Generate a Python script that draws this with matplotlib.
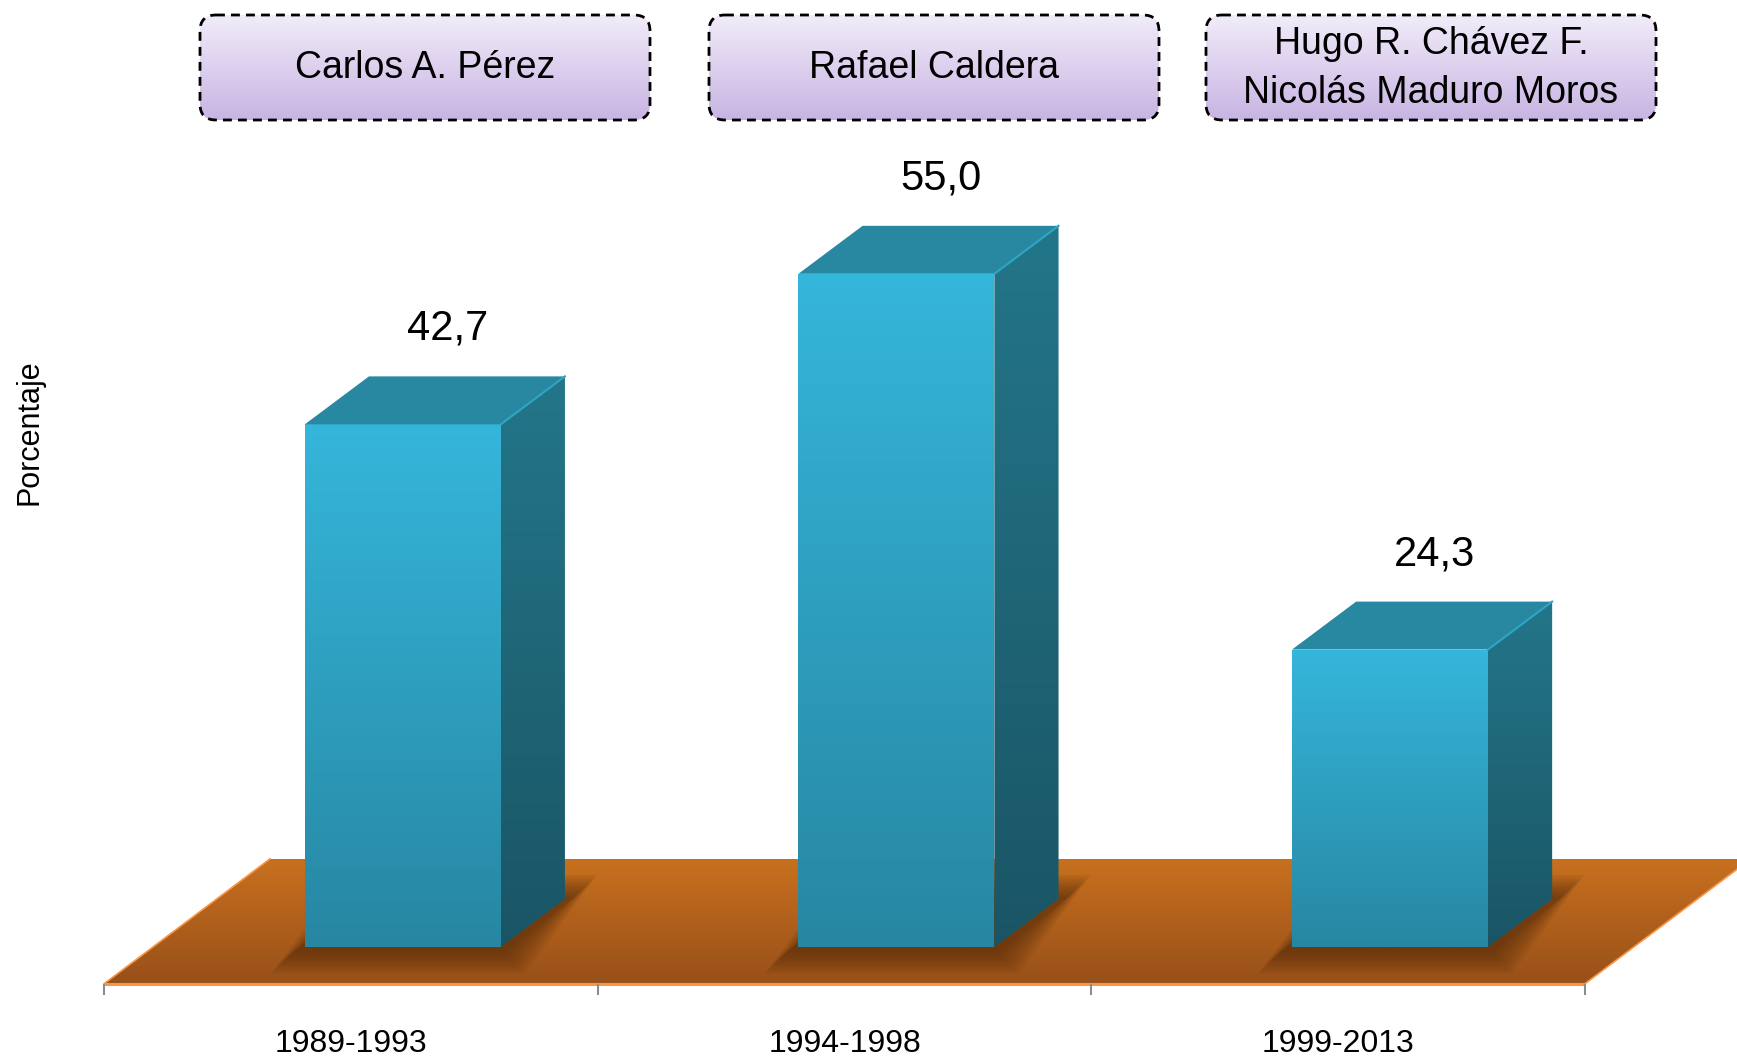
import numpy as np
import matplotlib
matplotlib.use("Agg")
import matplotlib.pyplot as plt
from matplotlib.patches import Polygon, FancyBboxPatch
from matplotlib.colors import LinearSegmentedColormap

plt.rcParams['font.family'] = ['Liberation Sans Narrow', 'Liberation Sans', 'DejaVu Sans']

# data
periods = ['1989-1993', '1994-1998', '1999-2013']
values = [42.7, 55.0, 24.3]
value_labels = ['42,7', '55,0', '24,3']
presidents = ['Carlos A. Pérez', 'Rafael Caldera', 'Hugo R. Chávez F.\nNicolás Maduro Moros']
y_title = 'Porcentaje'

W, H = 1737, 1059

# fake 3d geometry (category units / value units)
BAR_SHIFT = 0.105
BAR_W = 0.397
DX, DY = 0.13, 3.92
FLOOR_FRONT, FLOOR_BACK = -3.0, 7.2
FLOOR_SKEW = 0.336


def grad_fill(ax, verts, top, bottom, zorder):
    poly = Polygon(verts, closed=True, facecolor='none', edgecolor='none', zorder=zorder)
    ax.add_patch(poly)
    xs = [v[0] for v in verts]
    ys = [v[1] for v in verts]
    cmap = LinearSegmentedColormap.from_list('g', [bottom, top])
    g = np.linspace(0, 1, 256).reshape(-1, 1)
    im = ax.imshow(g, extent=(min(xs), max(xs), min(ys), max(ys)), origin='lower',
                   cmap=cmap, aspect='auto', zorder=zorder, interpolation='bilinear')
    im.set_clip_path(poly)
    return poly


fig = plt.figure(figsize=(W / 100, H / 100), dpi=100)
ax = fig.add_axes([0, 0, 1, 1])
ax.axis('off')
XLIM = (-0.711, 2.808)
YLIM = (-9.15, 77.37)
px = (XLIM[1] - XLIM[0]) / W
py = (YLIM[1] - YLIM[0]) / H

n = len(values)
left, right = -0.5, n - 0.5

# floor
floor = [(left, FLOOR_FRONT), (right, FLOOR_FRONT),
         (right + FLOOR_SKEW, FLOOR_BACK), (left + FLOOR_SKEW, FLOOR_BACK)]
grad_fill(ax, floor, '#c8701f', '#985019', 1)
ax.plot([left, right], [FLOOR_FRONT, FLOOR_FRONT], color='#f79646', lw=2.2, zorder=2,
        solid_capstyle='butt')
ax.plot([left, left + FLOOR_SKEW], [FLOOR_FRONT, FLOOR_BACK], color='#f79646', lw=1.2, zorder=2)
ax.plot([right, right + FLOOR_SKEW], [FLOOR_FRONT, FLOOR_BACK], color='#f79646', lw=1.2, zorder=2)

# tick marks under the floor
ax.vlines(np.arange(n + 1) - 0.5, FLOOR_FRONT - 0.9, FLOOR_FRONT, color='#8c8c8c', lw=1.5, zorder=2)

for i, v in enumerate(values):
    x0 = i + BAR_SHIFT - BAR_W / 2
    x1 = i + BAR_SHIFT + BAR_W / 2

    # soft shadow on the floor
    for k in range(10):
        pad = (10 - k) * 2.4
        sx, sy = pad * px, pad * py
        shadow = [(x0 - sx - 10 * px, -sy - 3 * py), (x1 + sx, -sy - 3 * py),
                  (x1 + DX + sx + 8 * px, DY + sy), (x0 + DX - sx, DY + sy)]
        ax.add_patch(Polygon(shadow, closed=True, facecolor='#3e1f06', edgecolor='none',
                             alpha=0.065, zorder=3))

    front = [(x0, 0), (x1, 0), (x1, v), (x0, v)]
    side = [(x1, 0), (x1 + DX, DY), (x1 + DX, v + DY), (x1, v)]
    top = [(x0, v), (x1, v), (x1 + DX, v + DY), (x0 + DX, v + DY)]
    grad_fill(ax, side, '#237689', '#1a5565', 4)
    grad_fill(ax, front, '#35b6db', '#2787a2', 4)
    ax.add_patch(Polygon(top, closed=True, facecolor='#2888a2', edgecolor='none', zorder=4))
    ax.plot([x1, x1 + DX], [v, v + DY], color='#2fa5c6', lw=1.5, zorder=5)

    ax.text(i + BAR_SHIFT + 0.09, v + 7.8, value_labels[i], ha='center', va='center',
            fontsize=30, color='black', zorder=6)
    ax.text(i, -7.95, periods[i], ha='center', va='center', fontsize=23, color='black')

ax.set_xlim(*XLIM)
ax.set_ylim(*YLIM)

# header boxes drawn in pixel space
ov = fig.add_axes([0, 0, 1, 1])
ov.axis('off')
ov.patch.set_alpha(0)
box_left = [200, 709, 1206]
box_w, box_top, box_bot = 450, 15, 120
hcmap = LinearSegmentedColormap.from_list('h', ['#c8b4e3', '#f1ecf9'])
for j, name in enumerate(presidents):
    bx = box_left[j]
    box = FancyBboxPatch((bx, box_top), box_w, box_bot - box_top,
                         boxstyle='round,pad=0,rounding_size=16',
                         facecolor='none', edgecolor='black', lw=2.0,
                         linestyle=(0, (3.2, 2.2)), zorder=3)
    ov.add_patch(box)
    im = ov.imshow(np.linspace(0, 1, 256).reshape(-1, 1),
                   extent=(bx, bx + box_w, box_bot, box_top), origin='lower',
                   cmap=hcmap, aspect='auto', zorder=2)
    im.set_clip_path(box)
    ov.text(bx + box_w / 2, (box_top + box_bot) / 2 + 1, name, ha='center', va='center',
            fontsize=27, linespacing=1.45, zorder=4)
ov.set_xlim(0, W)
ov.set_ylim(H, 0)

fig.text(30 / W, 1 - 432 / H, y_title, rotation=90, ha='center', va='center', fontsize=22)

fig.savefig('out.png', dpi=100)
